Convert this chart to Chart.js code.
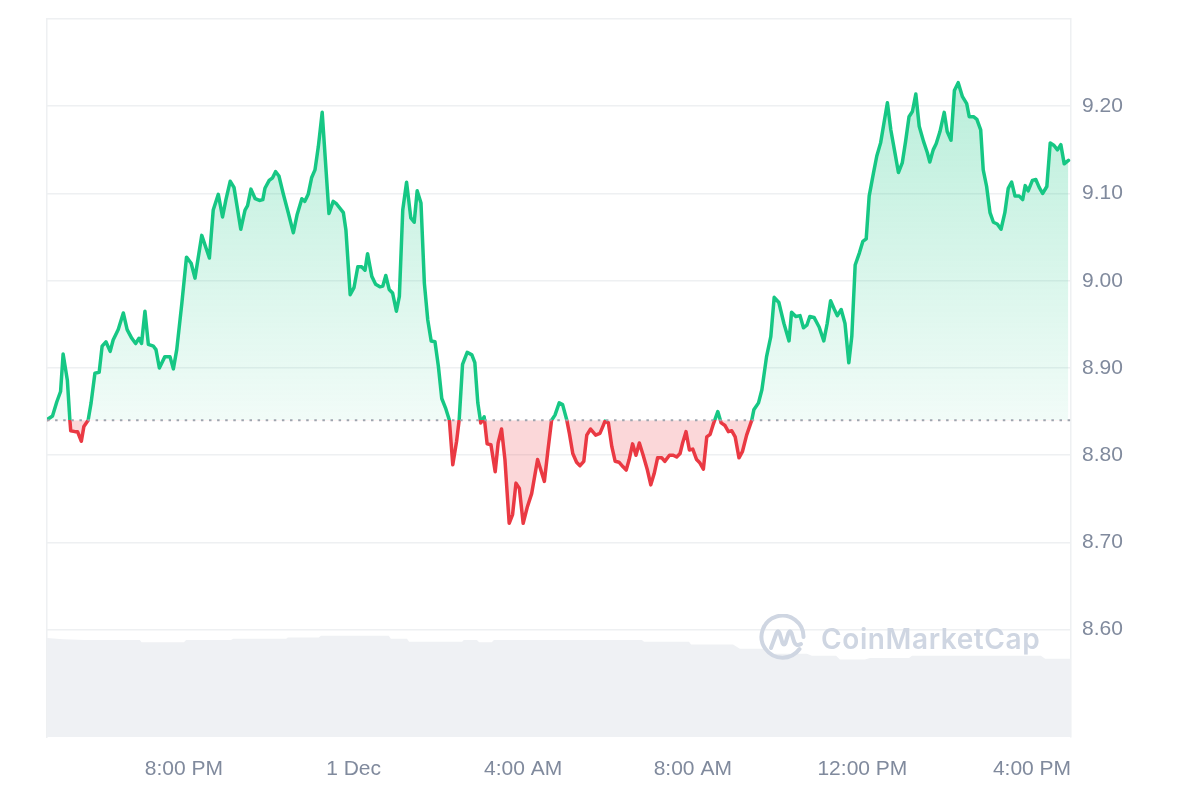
<!DOCTYPE html>
<html>
<head>
<meta charset="utf-8">
<script src="https://cdn.jsdelivr.net/npm/chart.js@4.4.0/dist/chart.umd.min.js"></script>
<style>
  html, body { margin: 0; padding: 0; background: #ffffff; }
  #wrap { position: relative; width: 1200px; height: 800px; }
  #wm { position: absolute; left: 0; top: 0; width: 1200px; height: 800px; pointer-events: none; }
  #wmText { position: absolute; left: 821px; top: 622px; font-family: Inter, "Noto Sans", sans-serif; font-weight: 600; font-size: 28px; line-height: 34px; color: #cfd6e2; letter-spacing: 0.6px; white-space: nowrap; }
</style>
</head>
<body>
<div id="wrap">
  <canvas id="c" width="1200" height="800"></canvas>
  <div id="wm">
    <svg style="position:absolute;left:759px;top:614px" width="49" height="49" viewBox="0 0 49 49">
      <path d="M 40.5 35 A 21 21 0 1 1 44.5 23" fill="none" stroke="#cfd6e2" stroke-width="4" stroke-linecap="round"/>
      <path d="M 12 34 L 17.5 19 Q 19 15.5 20.5 19 L 23.5 29 Q 25 32 26.5 29 L 29.5 19 Q 31 15.5 32.5 19 L 35 27.5 Q 37 33 42 30" fill="none" stroke="#cfd6e2" stroke-width="4" stroke-linecap="round" stroke-linejoin="round"/>
    </svg>
    <div id="wmText">CoinMarketCap</div>
  </div>
</div>
<script>
// ---- data (hours since 00:00 30 Nov; values > 24 are 1 Dec) ----
const priceTimes = [
16.78,16.90,17.00,17.09,17.15,17.25,17.31,17.33,17.43,17.49,
17.58,17.64,17.74,17.81,17.90,18.00,18.07,18.16,18.26,18.33,
18.45,18.57,18.66,18.77,18.86,18.94,19.00,19.08,19.16,19.28,
19.34,19.42,19.55,19.67,19.75,19.83,19.95,20.06,20.17,20.26,
20.42,20.60,20.69,20.81,20.91,20.99,21.09,21.18,21.34,21.44,
21.50,21.58,21.68,21.78,21.86,21.91,22.01,22.09,22.16,22.24,
22.34,22.46,22.58,22.67,22.78,22.85,22.93,23.01,23.09,23.17,
23.26,23.33,23.42,23.52,23.60,23.76,23.82,23.92,24.01,24.10,
24.19,24.27,24.33,24.43,24.52,24.62,24.69,24.76,24.84,24.92,
25.01,25.08,25.16,25.25,25.35,25.43,25.50,25.59,25.67,25.75,
25.83,25.92,26.00,26.08,26.17,26.26,26.34,26.43,26.49,26.57,
26.68,26.79,26.86,26.93,27.00,27.08,27.15,27.24,27.34,27.41,
27.49,27.57,27.67,27.75,27.83,27.91,28.00,28.10,28.20,28.34,
28.50,28.58,28.67,28.75,28.85,28.93,29.03,29.09,29.17,29.26,
29.34,29.43,29.50,29.59,29.71,29.81,29.88,29.93,30.01,30.09,
30.17,30.26,30.35,30.43,30.50,30.58,30.66,30.74,30.83,30.93,
31.01,31.09,31.17,31.27,31.34,31.45,31.54,31.62,31.70,31.76,
31.84,31.92,32.00,32.09,32.17,32.25,32.33,32.41,32.48,32.59,
32.67,32.76,32.84,32.92,33.00,33.09,33.17,33.27,33.39,33.44,
33.55,33.63,33.74,33.84,33.92,34.03,34.15,34.27,34.33,34.43,
34.53,34.61,34.69,34.76,34.86,34.98,35.09,35.17,35.25,35.34,
35.41,35.50,35.59,35.68,35.75,35.83,35.93,36.01,36.09,36.16,
36.26,36.34,36.43,36.51,36.59,36.67,36.77,36.85,36.94,37.02,
37.10,37.18,37.26,37.34,37.44,37.53,37.59,37.67,37.74,37.83,
37.93,38.00,38.09,38.17,38.26,38.36,38.46,38.52,38.62,38.70,
38.79,38.85,38.93,39.01,39.09,39.18,39.27,39.36,39.44,39.52,
39.60,39.70,39.78,39.84,39.91,40.01,40.09,40.17,40.25,40.35,
40.43,40.52,40.60,40.68,40.76,40.86
];
const prices = [
8.841,8.845,8.861,8.873,8.916,8.886,8.840,8.828,8.827,8.827,
8.816,8.833,8.840,8.860,8.894,8.895,8.925,8.930,8.919,8.932,
8.944,8.963,8.944,8.934,8.928,8.934,8.928,8.965,8.927,8.925,
8.921,8.900,8.913,8.913,8.899,8.921,8.974,9.027,9.020,9.003,
9.052,9.026,9.081,9.099,9.073,9.093,9.114,9.107,9.059,9.081,
9.086,9.105,9.094,9.092,9.093,9.106,9.115,9.118,9.125,9.120,
9.100,9.078,9.055,9.076,9.094,9.091,9.099,9.118,9.127,9.154,
9.193,9.142,9.077,9.091,9.088,9.078,9.058,8.984,8.992,9.016,
9.016,9.012,9.031,9.005,8.996,8.993,8.994,9.006,8.990,8.986,
8.965,8.982,9.081,9.113,9.072,9.067,9.103,9.089,8.997,8.955,
8.931,8.930,8.902,8.865,8.854,8.840,8.789,8.816,8.840,8.904,
8.918,8.915,8.906,8.860,8.837,8.844,8.813,8.812,8.781,8.814,
8.830,8.795,8.722,8.732,8.768,8.762,8.722,8.741,8.756,8.795,
8.770,8.804,8.840,8.846,8.860,8.858,8.840,8.825,8.802,8.792,
8.788,8.793,8.823,8.830,8.823,8.825,8.833,8.839,8.837,8.810,
8.793,8.792,8.787,8.783,8.795,8.813,8.800,8.814,8.800,8.783,
8.766,8.779,8.797,8.797,8.793,8.800,8.800,8.798,8.802,8.814,
8.827,8.806,8.807,8.795,8.791,8.784,8.821,8.824,8.835,8.850,
8.837,8.834,8.827,8.828,8.821,8.797,8.804,8.823,8.840,8.852,
8.860,8.875,8.913,8.936,8.981,8.975,8.951,8.931,8.964,8.959,
8.960,8.946,8.949,8.959,8.958,8.947,8.931,8.951,8.977,8.967,
8.960,8.967,8.951,8.906,8.936,9.018,9.032,9.045,9.048,9.097,
9.123,9.143,9.158,9.181,9.204,9.173,9.146,9.124,9.135,9.160,
9.188,9.194,9.214,9.177,9.160,9.147,9.136,9.150,9.157,9.171,
9.193,9.171,9.161,9.218,9.227,9.211,9.203,9.188,9.188,9.185,
9.173,9.127,9.108,9.078,9.067,9.065,9.059,9.078,9.106,9.113,
9.097,9.097,9.093,9.109,9.103,9.115,9.116,9.107,9.100,9.108,
9.158,9.155,9.150,9.156,9.134,9.138
];
const openPrice = 8.84;
const volTimes = [16.77,17.15,17.67,18.96,19.00,20.00,20.05,21.11,21.16,22.41,
22.45,23.18,23.23,24.83,24.88,25.26,25.31,26.56,26.60,26.91,
26.96,27.26,27.31,30.80,30.85,31.91,31.96,32.95,33.11,33.66,
33.82,34.69,34.81,35.38,35.47,36.06,36.18,37.10,37.17,40.21,
40.31,40.92];
const volValues = [13.8,13.6,13.5,13.5,13.2,13.2,13.5,13.5,13.7,13.7,
13.85,13.85,14.1,14.1,13.7,13.7,13.25,13.25,13.5,13.5,
13.2,13.2,13.5,13.5,13.25,13.25,12.9,12.9,12.3,12.3,
11.6,11.6,11.3,11.3,10.8,10.8,11.0,11.0,11.3,11.3,
10.9,10.9];
const xMin = 16.77, xMax = 40.92;
const xTickValues = [20, 24, 28, 32, 36, 40];
const xTickLabels = ['8:00 PM', '1 Dec', '4:00 AM', '8:00 AM', '12:00 PM', '4:00 PM'];
const yMin = 8.477, yMax = 9.30;
const yTickValues = [8.6, 8.7, 8.8, 8.9, 9.0, 9.1, 9.2, 9.3];
const yTickLabels = ['8.60', '8.70', '8.80', '8.90', '9.00', '9.10', '9.20', ''];

// ---- styles ----
const GREEN = '#16c784';
const RED = '#ea3943';
const GRID = '#eef0f2';
const TICK = '#808a9d';

function strokeSplit(ctx) {
  const chart = ctx.chart, area = chart.chartArea;
  if (!area || !chart.scales.y) return GREEN;
  const yb = chart.scales.y.getPixelForValue(openPrice);
  const t = Math.min(1, Math.max(0, (yb - area.top) / (area.bottom - area.top)));
  const g = chart.ctx.createLinearGradient(0, area.top, 0, area.bottom);
  g.addColorStop(0, GREEN); g.addColorStop(t, GREEN);
  g.addColorStop(t, RED); g.addColorStop(1, RED);
  return g;
}
function fillAbove(ctx) {
  const chart = ctx.chart, area = chart.chartArea;
  if (!area || !chart.scales.y) return 'rgba(22,199,132,0.15)';
  const yb = chart.scales.y.getPixelForValue(openPrice);
  const g = chart.ctx.createLinearGradient(0, area.top, 0, yb);
  g.addColorStop(0, 'rgba(22,199,132,0.34)');
  g.addColorStop(1, 'rgba(22,199,132,0.06)');
  return g;
}

Chart.defaults.font.family = '"Liberation Sans", Arial, sans-serif';
Chart.defaults.font.size = 21;
Chart.defaults.color = TICK;

new Chart(document.getElementById('c'), {
  type: 'line',
  data: {
    datasets: [
      {
        label: 'open',
        data: [{x: xMin, y: openPrice}, {x: xMax, y: openPrice}],
        borderColor: '#9ea4ae',
        borderWidth: 2,
        borderDash: [2.5, 5.6],
        pointRadius: 0,
        fill: false,
        order: 0,
        yAxisID: 'y'
      },
      {
        label: 'price',
        data: priceTimes.map((t, i) => ({x: t, y: prices[i]})),
        borderColor: strokeSplit,
        backgroundColor: fillAbove,
        borderWidth: 3.5,
        borderJoinStyle: 'round',
        borderCapStyle: 'round',
        pointRadius: 0,
        tension: 0,
        fill: {target: {value: openPrice}, below: 'rgba(234,57,67,0.2)'},
        order: 1,
        yAxisID: 'y'
      },
      {
        label: 'volume',
        data: volTimes.map((t, i) => ({x: t, y: volValues[i]})),
        borderWidth: 0,
        borderColor: 'rgba(0,0,0,0)',
        backgroundColor: '#eff1f4',
        pointRadius: 0,
        tension: 0,
        fill: 'origin',
        order: 2,
        yAxisID: 'yv'
      }
    ]
  },
  options: {
    responsive: false,
    animation: false,
    events: [],
    layout: { padding: { top: 19, right: 0, bottom: 0, left: 0 } },
    plugins: { legend: { display: false }, tooltip: { enabled: false } },
    scales: {
      x: {
        type: 'linear',
        min: xMin, max: xMax,
        afterBuildTicks: s => { s.ticks = xTickValues.map(v => ({value: v})); },
        afterFit: s => { s.height = 63; },
        ticks: {
          autoSkip: false, maxRotation: 0, padding: 20, color: TICK,
          callback: (v, i) => xTickLabels[i]
        },
        grid: { display: false, drawTicks: false },
        border: { display: false }
      },
      y: {
        position: 'right',
        min: yMin, max: yMax,
        afterBuildTicks: s => { s.ticks = yTickValues.map(v => ({value: v})); },
        afterFit: s => { s.width = 129; s.paddingTop = 0; s.paddingBottom = 0; },
        ticks: {
          padding: 11, color: TICK,
          callback: (v, i) => yTickLabels[i]
        },
        grid: { color: GRID, lineWidth: 1.5, drawTicks: false },
        border: { display: true, color: GRID, width: 1.5 }
      },
      yv: {
        position: 'left',
        min: 0, max: 100,
        afterFit: s => { s.width = 47; s.paddingTop = 0; s.paddingBottom = 0; },
        ticks: { display: false },
        grid: { display: false, drawTicks: false },
        border: { display: true, color: GRID, width: 1.5 }
      }
    }
  }
});
</script>
</body>
</html>
